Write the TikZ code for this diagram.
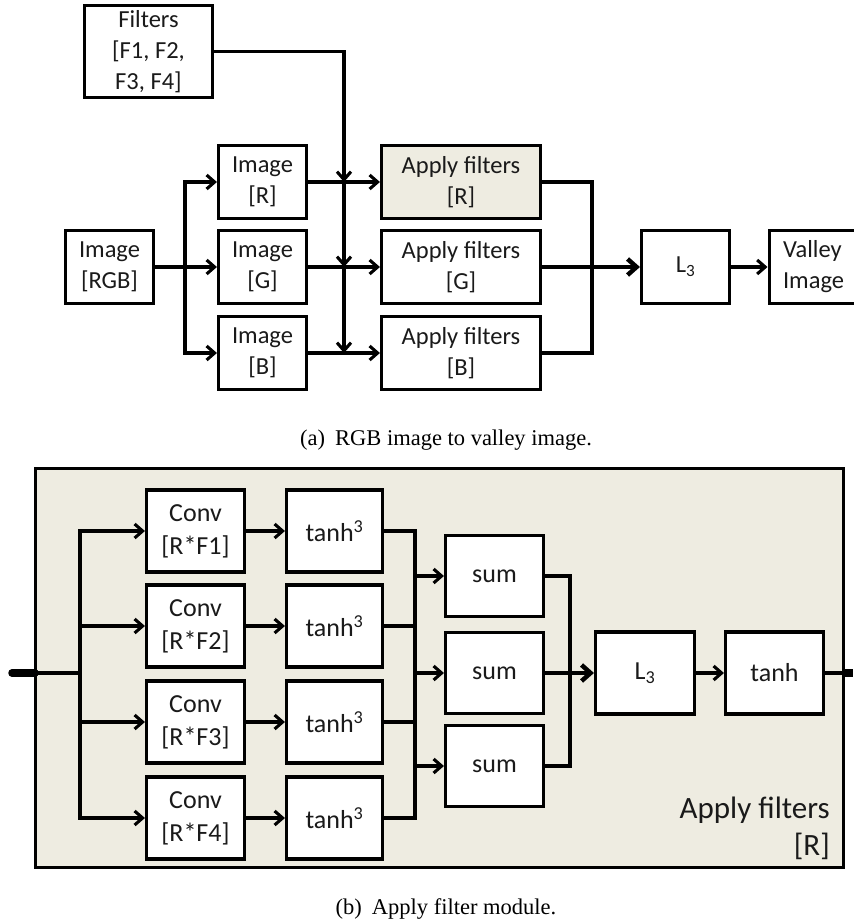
\documentclass[tikz,border=0pt]{standalone}
\usepackage{fontspec}
\setmainfont{Liberation Serif}
\newfontfamily\boxfont{Carlito}
\usetikzlibrary{arrows.meta}
\definecolor{tan}{HTML}{EEECE1}
\definecolor{ink}{HTML}{1A1A1A}
\begin{document}
\begin{tikzpicture}[x=1pt,y=-1pt,
  lw/.style={line width=3.1pt},
  box/.style={draw=black, lw, fill=white, inner sep=0pt, align=center, text=ink},
  topf/.style={font=\boxfont\fontsize{24.5}{31}\selectfont},
  botf/.style={font=\boxfont\fontsize{26}{33}\selectfont},
  conn/.style={lw, draw=black},
  arr/.style={conn, -{Straight Barb[length=8pt,width=14pt]}},
  thickarr/.style={line width=4.5pt, draw=black, -{Straight Barb[length=9pt,width=16pt]}},
  captxt/.style={font=\fontsize{22.5}{27}\selectfont, inner sep=0pt, anchor=base}
]
\useasboundingbox (0,0) rectangle (854,924);

% ---------------- (a) ----------------
\node[box, topf, minimum width=128pt, minimum height=92pt] (filt) at (148.5,51.5) {Filters\\{}[F1, F2,\\F3, F4]};
\node[box, topf, minimum width=88pt, minimum height=73pt] (rgb) at (109.5,267) {Image\\{}[RGB]};
\node[box, topf, minimum width=88pt, minimum height=73pt] (imR) at (262.5,182) {Image\\{}[R]};
\node[box, topf, minimum width=88pt, minimum height=73pt] (imG) at (262.5,267) {Image\\{}[G]};
\node[box, topf, minimum width=88pt, minimum height=73pt] (imB) at (262.5,353) {Image\\{}[B]};
\node[box, topf, minimum width=159pt, minimum height=73pt, fill=tan] (apR) at (461,182) {Apply filters\\{}[R]};
\node[box, topf, minimum width=159pt, minimum height=73pt] (apG) at (461,267) {Apply filters\\{}[G]};
\node[box, topf, minimum width=159pt, minimum height=73pt] (apB) at (461,353) {Apply filters\\{}[B]};
\node[box, topf, minimum width=88pt, minimum height=73pt] (L3a) at (685.5,267) {L\textsubscript{3}};
\node[box, topf, minimum width=120pt, minimum height=73pt, anchor=west, align=left, text width=100pt, inner xsep=14pt] (valley) at (767.5,267) {Valley\\Image};

\coordinate (sp) at (185,267);
\coordinate (fR) at (344,182);
\coordinate (fG) at (344,267);
\coordinate (fB) at (344,353);
\coordinate (mg) at (592,267);

\draw[arr] (rgb) -- (imG);
\draw[arr] (sp) |- (imR);
\draw[arr] (sp) |- (imB);
\draw[arr] (imR) -- (apR);
\draw[arr] (imG) -- (apG);
\draw[arr] (imB) -- (apB);
\draw[arr] (filt.east) -| (fR);
\draw[arr] (fR) -- (fG);
\draw[arr] (fG) -- (fB);
\draw[conn] (apR.east) -| (mg);
\draw[conn] (apB.east) -| (mg);
\draw[conn] (apG.east) -- (mg);
\draw[thickarr] (mg) -- (L3a);
\draw[arr] (L3a) -- (valley);

\node[captxt] (capa) at (446,445) {(a)\hspace{0.45em}RGB image to valley image.};

% ---------------- (b) ----------------
\node[draw=black, lw, fill=tan, minimum width=808pt, minimum height=399pt, inner sep=0pt] (panel) at (439.5,668) {};

\foreach \i/\y in {1/531,2/626,3/722,4/818}{
  \node[box, botf, minimum width=98pt, minimum height=82pt] (conv\i) at (195.5,\y) {Conv\\{}[R*F\i]};
  \node[box, botf, minimum width=96pt, minimum height=82pt] (th\i) at (334.5,\y) {tanh\textsuperscript{3}};
}
\foreach \i/\y in {1/576,2/673,3/766}{
  \node[box, botf, minimum width=98pt, minimum height=81pt] (sum\i) at (494.5,\y) {sum};
}
\node[box, botf, minimum width=99pt, minimum height=82pt] (L3b) at (645,673) {L\textsubscript{3}};
\node[box, botf, minimum width=98pt, minimum height=82pt] (thb) at (774.5,673) {tanh};

\node[anchor=base east, inner sep=0pt, text=ink, font=\boxfont\fontsize{31}{37}\selectfont] (lblA) at (830,818) {Apply filters};
\node[anchor=base east, inner sep=0pt, text=ink, font=\boxfont\fontsize{31}{37}\selectfont] (lblB) at (830,855) {[R]};

\coordinate (in) at (12,673);
\coordinate (inE) at (35,673);
\coordinate (sp2) at (80,673);
\coordinate (mt) at (415,673);
\coordinate (ms) at (570,673);
\coordinate (outE) at (845,673);
\coordinate (out) at (853,673);

\draw[line width=7.5pt, line cap=round] (in) -- (inE);
\draw[line width=3.6pt] (inE) -- (sp2);
\foreach \i in {1,2,3,4}{
  \draw[arr] (sp2) |- (conv\i);
  \draw[arr] (conv\i) -- (th\i);
  \draw[conn] (th\i.east) -| (mt);
}
\draw[arr] (mt |- sum1) -- (sum1);
\draw[arr] (mt) -- (sum2);
\draw[arr] (mt |- sum3) -- (sum3);
\draw[conn] (sum1.east) -| (ms);
\draw[conn] (sum3.east) -| (ms);
\draw[conn] (sum2.east) -- (ms);
\draw[thickarr] (ms) -- (L3b);
\draw[arr] (L3b) -- (thb);
\draw[conn] (thb.east) -- (outE);
\draw[line width=7.5pt] (outE) -- (out);

\node[captxt] (capb) at (446,914) {(b)\hspace{0.45em}Apply filter module.};
\end{tikzpicture}
\end{document}
